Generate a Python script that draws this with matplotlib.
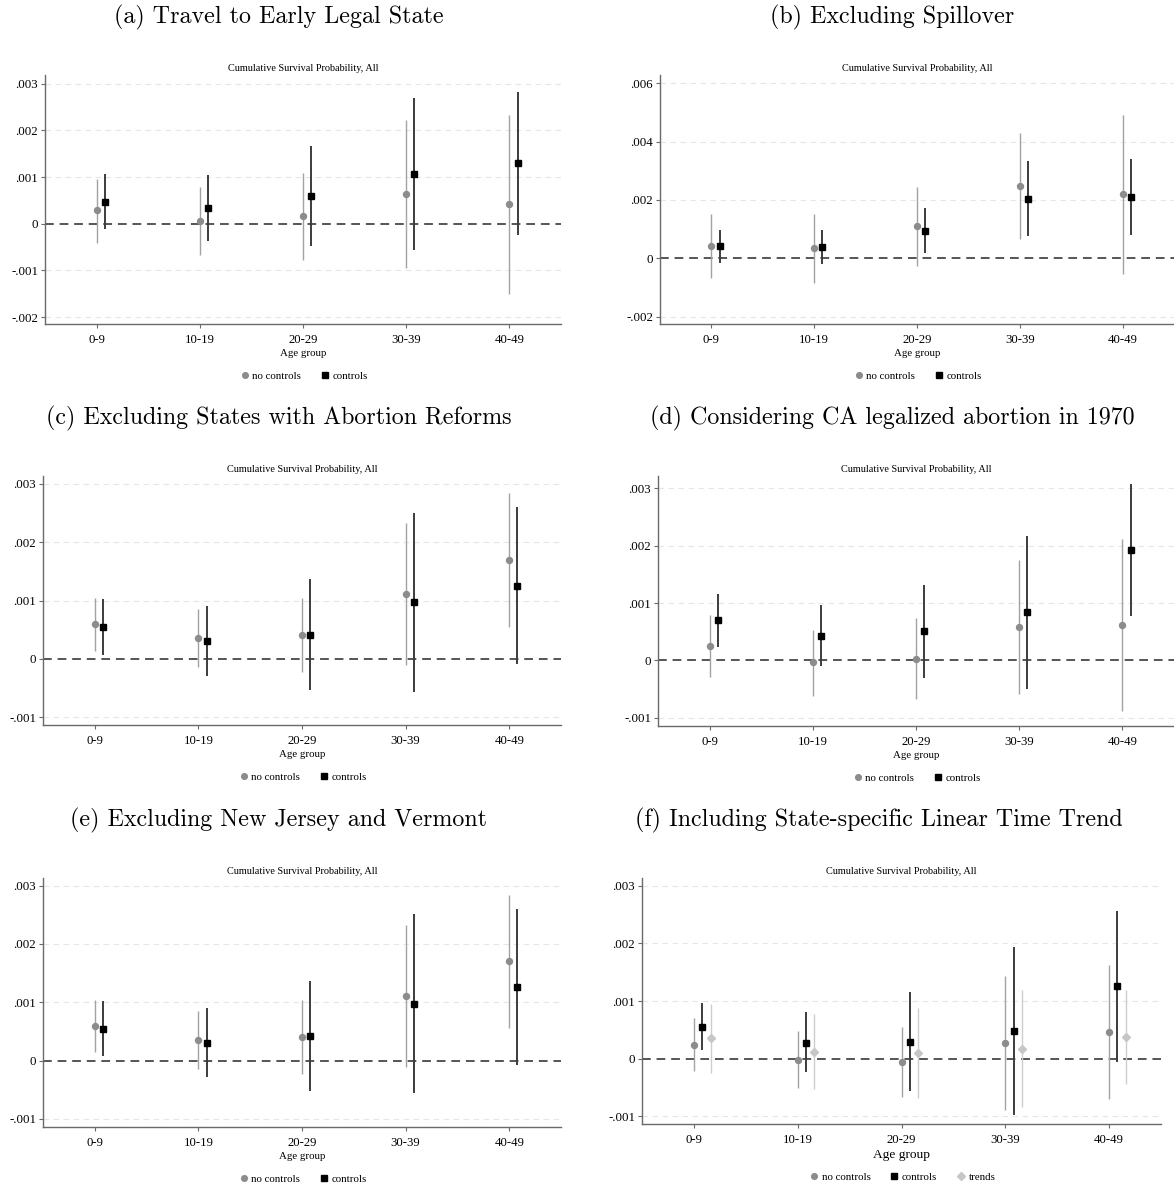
import matplotlib
matplotlib.use("Agg")
import matplotlib.pyplot as plt
from matplotlib.lines import Line2D
import numpy as np

# ---------------- data ----------------
age_groups = ["0-9", "10-19", "20-29", "30-39", "40-49"]

# (a) Travel to Early Legal State
a_nc = [0.000286, 0.000057, 0.000157, 0.000636, 0.000414]
a_nc_lo = [-0.000407, -0.000671, -0.000786, -0.000943, -0.001500]
a_nc_hi = [0.000964, 0.000786, 0.001086, 0.002221, 0.002336]
a_c = [0.000471, 0.000343, 0.000600, 0.001070, 0.001300]
a_c_lo = [-0.000114, -0.000371, -0.000479, -0.000564, -0.000236]
a_c_hi = [0.001057, 0.001043, 0.001670, 0.002693, 0.002836]

# (b) Excluding Spillover
b_nc = [0.000433, 0.000342, 0.001105, 0.002473, 0.002200]
b_nc_lo = [-0.000661, -0.000843, -0.000251, 0.000650, -0.000524]
b_nc_hi = [0.001516, 0.001527, 0.002450, 0.004296, 0.004923]
b_c = [0.000410, 0.000376, 0.000934, 0.002040, 0.002100]
b_c_lo = [-0.000160, -0.000205, 0.000171, 0.000764, 0.000798]
b_c_hi = [0.000969, 0.000969, 0.001710, 0.003328, 0.003407]

# (c) Excluding States with Abortion Reforms
c_nc = [0.000593, 0.000354, 0.000411, 0.001107, 0.001700]
c_nc_lo = [0.000143, -0.000137, -0.000228, -0.000103, 0.000553]
c_nc_hi = [0.001044, 0.000850, 0.001044, 0.002322, 0.002847]
c_c = [0.000548, 0.000302, 0.000417, 0.000970, 0.001255]
c_c_lo = [0.000074, -0.000291, -0.000531, -0.000565, -0.000080]
c_c_hi = [0.001021, 0.000902, 0.001364, 0.002505, 0.002596]

# (d) Considering CA legalized abortion in 1970
d_nc = [0.000249, -0.000035, 0.000029, 0.000586, 0.000620]
d_nc_lo = [-0.000290, -0.000614, -0.000667, -0.000586, -0.000887]
d_nc_hi = [0.000783, 0.000539, 0.000736, 0.001757, 0.002116]
d_c = [0.000696, 0.000429, 0.000510, 0.000841, 0.001925]
d_c_lo = [0.000226, -0.000104, -0.000301, -0.000493, 0.000771]
d_c_hi = [0.001165, 0.000957, 0.001322, 0.002168, 0.003072]

# (e) Excluding New Jersey and Vermont
e_nc = [0.000594, 0.000354, 0.000411, 0.001107, 0.001700]
e_nc_lo = [0.000143, -0.000137, -0.000228, -0.000103, 0.000553]
e_nc_hi = [0.001044, 0.000850, 0.001044, 0.002322, 0.002847]
e_c = [0.000549, 0.000302, 0.000417, 0.000970, 0.001255]
e_c_lo = [0.000074, -0.000291, -0.000531, -0.000565, -0.000080]
e_c_hi = [0.001021, 0.000902, 0.001364, 0.002505, 0.002596]

# (f) Including State-specific Linear Time Trend
f_nc = [0.000242, -0.000023, -0.000058, 0.000277, 0.000462]
f_nc_lo = [-0.000219, -0.000514, -0.000658, -0.000883, -0.000693]
f_nc_hi = [0.000698, 0.000473, 0.000543, 0.001437, 0.001616]
f_c = [0.000554, 0.000277, 0.000289, 0.000485, 0.001253]
f_c_lo = [0.000144, -0.000237, -0.000566, -0.000970, -0.000058]
f_c_hi = [0.000964, 0.000802, 0.001149, 0.001934, 0.002551]
f_t = [0.000358, 0.000121, 0.000098, 0.000167, 0.000381]
f_t_lo = [-0.000242, -0.000525, -0.000681, -0.000843, -0.000433]
f_t_hi = [0.000952, 0.000773, 0.000877, 0.001189, 0.001189]

titles = ["(a) Travel to Early Legal State", "(b) Excluding Spillover",
          "(c) Excluding States with Abortion Reforms",
          "(d) Considering CA legalized abortion in 1970",
          "(e) Excluding New Jersey and Vermont",
          "(f) Including State-specific Linear Time Trend"]
subtitle = "Cumulative Survival Probability, All"
xlabel = "Age group"
legend_labels = ["no controls", "controls", "trends"]

yt_small = [-0.001, 0.0, 0.001, 0.002, 0.003]
yt_small_lab = ["-.001", "0", ".001", ".002", ".003"]
yt_a = [-0.002, -0.001, 0.0, 0.001, 0.002, 0.003]
yt_a_lab = ["-.002", "-.001", "0", ".001", ".002", ".003"]
yt_b = [-0.002, 0.0, 0.002, 0.004, 0.006]
yt_b_lab = ["-.002", "0", ".002", ".004", ".006"]

# ---------------- style ----------------
W, H = 1174, 1186
fig = plt.figure(figsize=(W / 100, H / 100), dpi=100)
fig.patch.set_facecolor("white")

SERIF = ["Liberation Serif", "DejaVu Serif"]
TITLE_FONT = ["cmr10", "DejaVu Serif"]

C_NC = "#8c8c8c"
C_NC_LINE = "#a2a2a2"
C_C = "#000000"
C_C_LINE = "#3c3c3c"
C_T = "#c6c6c6"
C_T_LINE = "#cdcdcd"
SPINE = "#6a6a6a"


def px_axes(left, right, top, bottom):
    return fig.add_axes([left / W, 1 - bottom / H, (right - left) / W, (bottom - top) / H])


panels = [
    dict(rect=(45, 561, 75, 324), ylim=(-0.00215, 0.00319), yt=yt_a, ytl=yt_a_lab,
         series=[(a_nc, a_nc_lo, a_nc_hi), (a_c, a_c_lo, a_c_hi)], tx=279, ty=17, big=False),
    dict(rect=(660, 1174, 75, 324), ylim=(-0.00225, 0.00628), yt=yt_b, ytl=yt_b_lab,
         series=[(b_nc, b_nc_lo, b_nc_hi), (b_c, b_c_lo, b_c_hi)], tx=892, ty=17, big=False),
    dict(rect=(43, 561, 476, 725), ylim=(-0.00113, 0.00313), yt=yt_small, ytl=yt_small_lab,
         series=[(c_nc, c_nc_lo, c_nc_hi), (c_c, c_c_lo, c_c_hi)], tx=279, ty=418, big=False),
    dict(rect=(658, 1174, 476, 726), ylim=(-0.00114, 0.00321), yt=yt_small, ytl=yt_small_lab,
         series=[(d_nc, d_nc_lo, d_nc_hi), (d_c, d_c_lo, d_c_hi)], tx=892, ty=418, big=False),
    dict(rect=(43, 561, 878, 1127), ylim=(-0.00114, 0.00313), yt=yt_small, ytl=yt_small_lab,
         series=[(e_nc, e_nc_lo, e_nc_hi), (e_c, e_c_lo, e_c_hi)], tx=279, ty=820, big=False),
    dict(rect=(642, 1161, 878, 1124), ylim=(-0.00113, 0.00313), yt=yt_small, ytl=yt_small_lab,
         series=[(f_nc, f_nc_lo, f_nc_hi), (f_c, f_c_lo, f_c_hi), (f_t, f_t_lo, f_t_hi)],
         tx=879, ty=820, big=True),
]

styles = [
    dict(marker="o", ms=4.3, mc=C_NC, lc=C_NC_LINE, lw=1.0),
    dict(marker="s", ms=4.6, mc=C_C, lc=C_C_LINE, lw=1.4),
    dict(marker="D", ms=3.8, mc=C_T, lc=C_T_LINE, lw=1.0),
]
offsets = [0.0, 0.08, 0.16]

x = np.arange(len(age_groups))

for i, p in enumerate(panels):
    ax = px_axes(*p["rect"])
    ax.set_xlim(-0.5, 4.5)
    ax.set_ylim(*p["ylim"])
    for s, (vals, lo, hi) in enumerate(p["series"]):
        st = styles[s]
        xs = x + offsets[s]
        ax.vlines(xs, lo, hi, color=st["lc"], lw=st["lw"], zorder=3)
        ax.plot(xs, vals, linestyle="none", marker=st["marker"], ms=st["ms"],
                mfc=st["mc"], mec=st["mc"], zorder=4)
    ax.axhline(0, color="#555555", lw=1.4, ls=(0, (4.5, 3)), zorder=2)
    for yv in p["yt"]:
        if yv != 0:
            ax.axhline(yv, color="#e6e6e6", lw=0.8, ls=(0, (5, 4)), zorder=1)
    ax.set_yticks(p["yt"])
    ax.set_yticklabels(p["ytl"], fontfamily=SERIF, fontsize=9.3)
    ax.set_xticks(x)
    ax.set_xticklabels(age_groups, fontfamily=SERIF, fontsize=9.2)
    for side in ["top", "right"]:
        ax.spines[side].set_visible(False)
    for side in ["left", "bottom"]:
        ax.spines[side].set_color(SPINE)
        ax.spines[side].set_linewidth(1.0)
    ax.tick_params(axis="both", length=3, width=0.8, color=SPINE, pad=2)
    ax.tick_params(axis="x", pad=4)
    ax.set_title(subtitle, fontfamily=SERIF, fontsize=7.4, pad=3)
    fs_lab = 9.6 if p["big"] else 7.8
    ax.set_xlabel(xlabel, fontfamily=SERIF, fontsize=fs_lab, labelpad=2.5)

    handles = []
    for s in range(len(p["series"])):
        st = styles[s]
        handles.append(Line2D([], [], linestyle="none", marker=st["marker"],
                              ms=st["ms"] * 0.95, mfc=st["mc"], mec=st["mc"],
                              label=legend_labels[s]))
    left, right, top, bottom = p["rect"]
    leg_y_px = bottom + (53 if p["big"] else 52)
    ax.legend(handles=handles, loc="center",
              bbox_to_anchor=(0.5, (bottom - leg_y_px) / (bottom - top)),
              ncol=len(handles), frameon=False, handletextpad=0.1,
              columnspacing=1.6, handlelength=1.2,
              prop=dict(family=SERIF, size=7.8))

    fig.text(p["tx"] / W, 1 - p["ty"] / H, titles[i], ha="center", va="center",
             fontfamily=TITLE_FONT, fontsize=17.3)

fig.savefig("out.png", dpi=100, facecolor="white")
